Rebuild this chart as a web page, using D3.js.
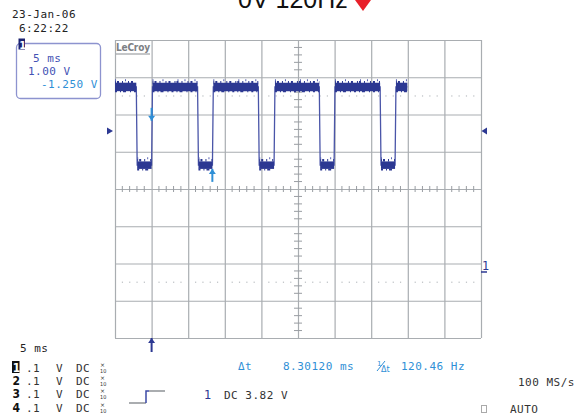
<!DOCTYPE html>
<html>
<head>
<meta charset="utf-8">
<script src="https://cdn.jsdelivr.net/npm/d3@7"></script>
<style>
  body { margin:0; background:#fff; }
  svg { display:block; }
  .mono { font-family:"DejaVu Sans Mono", monospace; font-size:11px; letter-spacing:0.5px; }
</style>
</head>
<body>
<svg id="scope" width="584" height="415"></svg>
<script>
// ---- data ----
var msPerDiv = 5, voltsPerDiv = 1.00, offsetV = -1.25
var recordStart = -5, recordEnd = 34.93          // ms
var fallTimes = [-2.09, 6.28, 14.58, 22.91, 31.22]  // ms
var riseTimes = [0.0, 8.31, 16.73, 24.93, 33.26]    // ms
var edgeDur = 0.12                                // ms
var highV = 3.99, lowV = 1.89                     // V
var cursorT = [0, 8.30], cursorV = [3.08, 1.79]
var trigT = 0, levelMarkV = 2.81, gndMarkV = -0.79
var chanRows = ["1","2","3","4"]

var svg = d3.select("#scope")

var x = d3.scaleLinear().domain([-5, 45]).range([115, 481])
var yDiv = d3.scaleLinear().domain([-4, 4]).range([338, 40])
function yV(v){ return yDiv((v + offsetV) / voltsPerDiv) }

var gridCol = "#a9adb1", navy = "#2c3892", light = "#2f8fd6"

// grid via axes
var xMajor = d3.range(-5, 46, msPerDiv)
var yMajor = d3.range(-4, 5, 1)
svg.append("g").attr("transform","translate(0,40)")
  .call(d3.axisTop(x).tickValues(xMajor).tickSize(-298).tickFormat(""))
  .call(function(g){ g.select(".domain").remove(); g.selectAll("line").attr("stroke",gridCol).attr("stroke-width",1.2) })
svg.append("g").attr("transform","translate(115,0)")
  .call(d3.axisLeft(yDiv).tickValues(yMajor).tickSize(-366).tickFormat(""))
  .call(function(g){ g.select(".domain").remove(); g.selectAll("line").attr("stroke",gridCol).attr("stroke-width",1.2) })

// centre cross ticks
var xMinor = d3.range(-5, 45.01, 1).filter(function(t){ return (t+5) % 5 !== 0 })
var yMinor = d3.range(-4, 4.01, 0.2).filter(function(d){ return Math.abs(d - Math.round(d)) > 0.01 })
svg.append("g").selectAll("line").data(xMinor).enter().append("line")
  .attr("x1", function(d){ return x(d) }).attr("x2", function(d){ return x(d) })
  .attr("y1", yDiv(0)-3).attr("y2", yDiv(0)+3)
  .attr("stroke", "#999da2").attr("stroke-width", 1)
svg.append("g").selectAll("line").data(yMinor).enter().append("line")
  .attr("x1", x(20)-4).attr("x2", x(20)+4)
  .attr("y1", function(d){ return yDiv(d) }).attr("y2", function(d){ return yDiv(d) })
  .attr("stroke", "#999da2").attr("stroke-width", 1)

// dotted rows at +/-2.5 div
var dotT = xMinor
;[2.5, -2.5].forEach(function(r){
  svg.append("g").selectAll("rect").data(dotT).enter().append("rect")
    .attr("x", function(d){ return x(d)-0.5 }).attr("y", yDiv(r)-0.5)
    .attr("width",1.2).attr("height",1.2).attr("fill","#b9bdc1")
})

// LeCroy logo
svg.append("text").attr("x",116).attr("y",51).attr("textLength",34)
  .style("font-family","DejaVu Sans Condensed").style("font-size","10px").style("font-weight","bold")
  .attr("fill","#7d8084").text("LeCroy")
svg.append("line").attr("x1",116).attr("x2",150).attr("y1",54).attr("y2",54)
  .attr("stroke","#8a8d91").attr("stroke-width",1.2)

// ---- trace ----
var pts = [[recordStart, highV]]
for (var i=0;i<fallTimes.length;i++){
  pts.push([fallTimes[i], highV])
  pts.push([fallTimes[i]+edgeDur, lowV])
  pts.push([riseTimes[i], lowV])
  pts.push([riseTimes[i]+edgeDur, highV])
}
pts.push([recordEnd, highV])
var line = d3.line().x(function(d){ return x(d[0]) }).y(function(d){ return yV(d[1]) })
svg.append("path").attr("d", line(pts)).attr("fill","none")
  .attr("stroke","#4a55a8").attr("stroke-width",1.3)

// flat segments as noisy bands
var flats = []
for (var i=0;i<pts.length-1;i++){
  if (pts[i][1] === pts[i+1][1]) flats.push([pts[i], pts[i+1]])
}
var bands = svg.append("g")
flats.forEach(function(s){
  var x0 = x(s[0][0]), x1 = x(s[1][0]), y0 = yV(s[0][1])
  var hi = s[0][1] === highV
  bands.append("line").attr("x1",x0).attr("x2",x1).attr("y1",y0).attr("y2",y0)
    .attr("stroke",navy).attr("stroke-width", hi ? 8.5 : 7.5)
  bands.append("line").attr("x1",x0).attr("x2",x1).attr("y1",y0-4.8).attr("y2",y0-4.8)
    .attr("stroke",navy).attr("stroke-width",2.5).attr("stroke-dasharray","1,1,2,3,1,5,1,2,2,4")
  bands.append("line").attr("x1",x0).attr("x2",x1).attr("y1",y0+4.5).attr("y2",y0+4.5)
    .attr("stroke",navy).attr("stroke-width",1.6).attr("stroke-dasharray","2,3,1,2,3,4,1,3")
  bands.append("line").attr("x1",x0).attr("x2",x1).attr("y1",y0-6.8).attr("y2",y0-6.8)
    .attr("stroke","#5a64b4").attr("stroke-width",2).attr("stroke-dasharray","1,9,1,14,1,6")
})

// cursor arrows
function arrow(cx, tipY, dir, col, len){
  var g = svg.append("g").attr("fill",col).attr("stroke",col)
  g.append("line").attr("x1",cx).attr("x2",cx).attr("y1",tipY).attr("y2",tipY - dir*len).attr("stroke-width",2)
  g.append("path").attr("stroke","none")
    .attr("d","M"+(cx-3.5)+","+(tipY-dir*5)+"L"+(cx+3.5)+","+(tipY-dir*5)+"L"+cx+","+tipY+"Z")
}
arrow(x(cursorT[0]), yV(cursorV[0]), 1, light, 13)
arrow(x(cursorT[1]), yV(cursorV[1]), -1, light, 13)
arrow(x(trigT), 338, -1, navy, 14)

// side markers
svg.append("path").attr("fill",navy)
  .attr("d","M107,"+(yV(levelMarkV)-3.5)+"L113,"+yV(levelMarkV)+"L107,"+(yV(levelMarkV)+3.5)+"Z")
svg.append("path").attr("fill",navy)
  .attr("d","M487,"+(yV(levelMarkV)-3.5)+"L481.5,"+yV(levelMarkV)+"L487,"+(yV(levelMarkV)+3.5)+"Z")
svg.append("text").attr("x",482).attr("y",yV(gndMarkV)+5).attr("fill",navy)
  .style("font-family","DejaVu Sans Condensed").style("font-size","13px").text("1")
svg.append("line").attr("x1",481).attr("x2",487).attr("y1",yV(gndMarkV)+7).attr("y2",yV(gndMarkV)+7)
  .attr("stroke",navy).attr("stroke-width",1.5)

// ---- title (clipped at top) ----
svg.append("text").attr("x",238).attr("y",8).attr("fill","#111")
  .style("font-family","Liberation Sans, Arial").style("font-size","25px").text("0V 120Hz")
svg.append("path").attr("fill","#e8202a").attr("d","M355,0L371,0L363,11Z")

// ---- top-left info ----
function t(xp, yp, s, col, cls){
  return svg.append("text").attr("class", cls || "mono").attr("x",xp).attr("y",yp).attr("fill",col || "#222").text(s)
}
t(12, 18, "23-Jan-06")
t(19, 32, "6:22:22")
svg.append("rect").attr("x",16.5).attr("y",43.5).attr("width",84).attr("height",55).attr("rx",4)
  .attr("fill","none").attr("stroke","#8d93cf").attr("stroke-width",1.3)
svg.append("rect").attr("x",18.5).attr("y",38.5).attr("width",6.5).attr("height",11).attr("fill","#1c2270")
svg.append("text").attr("x",19.3).attr("y",48.5).attr("fill","#fff")
  .style("font-family","DejaVu Sans Condensed").style("font-size","11px").style("font-weight","bold").text("1")
t(33, 62, "5 ms", "#4352b4")
t(28, 75, "1.00 V", "#4352b4")
t(41, 88, "-1.250 V", light)

// ---- bottom info ----
t(20, 352, "5 ms")
var rowY = [372, 385, 398, 412]
chanRows.forEach(function(c, i){
  var yy = rowY[i]
  if (i === 0){
    svg.append("rect").attr("x",12).attr("y",yy-11).attr("width",7.5).attr("height",12).attr("fill","#111")
    svg.append("text").attr("x",12.8).attr("y",yy).attr("fill","#fff")
      .style("font-family","DejaVu Sans Condensed").style("font-size","12px").style("font-weight","bold").text(c)
  } else {
    svg.append("text").attr("x",12.5).attr("y",yy).attr("fill","#111")
      .style("font-family","DejaVu Sans Condensed").style("font-size","12px").style("font-weight","bold").text(c)
  }
  t(26, yy, ".1", "#333")
  t(56, yy, "V", "#333")
  t(76, yy, "DC", "#333")
  svg.append("text").attr("x",100).attr("y",yy-5).style("font-family","DejaVu Sans").style("font-size","6px").attr("fill","#333").text("×")
  svg.append("text").attr("x",100).attr("y",yy+0.5).style("font-family","DejaVu Sans Condensed").style("font-size","5.5px").attr("fill","#333").text("10")
})

// trigger slope icon
svg.append("path").attr("fill","none").attr("stroke","#8f9296").attr("stroke-width",1.3)
  .attr("d","M129,403L146,403M149,391L165,391")
svg.append("path").attr("fill","none").attr("stroke","#3c49a6").attr("stroke-width",1.5)
  .attr("d","M146,403L146,391L149,391")

svg.append("text").attr("x",204).attr("y",399).attr("fill",navy)
  .style("font-family","DejaVu Sans Condensed").style("font-size","13px").text("1")
t(224, 399, "DC 3.82 V", "#333")

t(238, 370, "\u0394t", light)
t(283, 370, "8.30120 ms", light)
svg.append("text").attr("x",377).attr("y",366).style("font-family","DejaVu Sans").style("font-size","7px").attr("fill",light).text("1")
svg.append("line").attr("x1",377).attr("x2",385).attr("y1",371).attr("y2",361).attr("stroke",light).attr("stroke-width",1)
svg.append("text").attr("x",381).attr("y",372).style("font-family","DejaVu Sans").style("font-size","8px").attr("fill",light).text("\u0394t")
t(401, 370, "120.46 Hz", light)

t(518, 386, "100 MS/s", "#333")
svg.append("rect").attr("x",481.5).attr("y",405.5).attr("width",5).attr("height",7).attr("fill","none")
  .attr("stroke","#aaa").attr("stroke-width",1)
t(510, 413, "AUTO", "#333")
</script>
</body>
</html>
